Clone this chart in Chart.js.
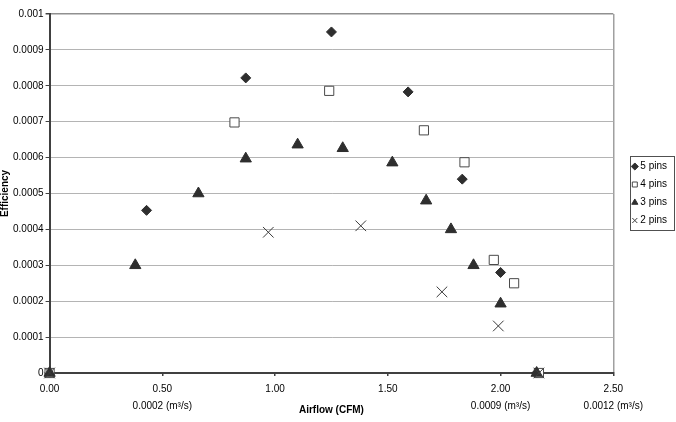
<!DOCTYPE html>
<html>
<head>
<meta charset="utf-8">
<script src="https://cdn.jsdelivr.net/npm/chart.js@4"></script>
<style>
  body { margin: 0; background: #fff; }
</style>
</head>
<body>
<canvas id="efficiencyChart" width="676" height="422"></canvas>
<script>
// series (airflow in CFM, efficiency)
const pins5X = [0, 0.43, 0.87, 1.25, 1.59, 1.83, 2.00, 2.16];
const pins5Y = [0, 0.000453, 0.000822, 0.00095, 0.000783, 0.00054, 0.00028, 0];

const pins4X = [0, 0.82, 1.24, 1.66, 1.84, 1.97, 2.06, 2.17];
const pins4Y = [0, 0.000698, 0.000786, 0.000676, 0.000587, 0.000315, 0.00025, 0];

const pins3X = [0, 0.38, 0.66, 0.87, 1.10, 1.30, 1.52, 1.67, 1.78, 1.88, 2.00, 2.16];
const pins3Y = [0, 0.0003, 0.0005, 0.000597, 0.000636, 0.000626, 0.000586, 0.00048, 0.0004, 0.0003, 0.000193, 0];

const pins2X = [0, 0.97, 1.38, 1.74, 1.99, 2.17];
const pins2Y = [0, 0.000392, 0.00041, 0.000226, 0.000131, 0];

const seriesNames = ['5 pins', '4 pins', '3 pins', '2 pins'];

const xTickLabels = ['0.00', '0.50', '1.00', '1.50', '2.00', '2.50'];
const xMetricLabels = ['', '0.0002 (m³/s)', '', '', '0.0009 (m³/s)', '0.0012 (m³/s)'];
const yTickLabels = ['0', '0.0001', '0.0002', '0.0003', '0.0004', '0.0005',
  '0.0006', '0.0007', '0.0008', '0.0009', '0.001'];

const toPoints = (xs, ys) => xs.map((x, i) => ({ x: x, y: ys[i] }));

const FONT = "'Liberation Sans', Arial, sans-serif";

// move the legend next to the plot and put a frame round it
const legendFrame = {
  id: 'legendFrame',
  afterLayout(chart) {
    const lg = chart.legend;
    lg.left += 13;
    lg.right += 13;
    lg.top = chart.chartArea.top;
    lg.bottom = chart.chartArea.bottom;
  },
  afterDraw(chart) {
    const lg = chart.legend;
    const pad = lg.options.labels.padding;
    const col = lg.columnSizes[0];
    const x0 = lg.left + pad;
    const y0 = (lg.top + pad + lg.bottom - col.height) / 2;
    const ctx = chart.ctx;
    ctx.save();
    ctx.strokeStyle = '#505050';
    ctx.lineWidth = 1;
    ctx.strokeRect(Math.round(x0 - 4) + 0.5, Math.round(y0 - 6) + 0.5,
      Math.round(col.width + 11), Math.round(col.height - pad + 10));
    ctx.restore();
  }
};

const ctx = document.getElementById('efficiencyChart').getContext('2d');
new Chart(ctx, {
  type: 'scatter',
  data: {
    datasets: [{
      label: seriesNames[0],
      data: toPoints(pins5X, pins5Y),
      order: 4,
      pointStyle: 'rectRot',
      pointRadius: 5,
      backgroundColor: '#2e2e2e',
      borderColor: '#2e2e2e',
      borderWidth: 1
    }, {
      label: seriesNames[1],
      data: toPoints(pins4X, pins4Y),
      order: 3,
      pointStyle: 'rect',
      pointRadius: 6.5,
      backgroundColor: '#ffffff',
      borderColor: '#4a4a4a',
      borderWidth: 1
    }, {
      label: seriesNames[2],
      data: toPoints(pins3X, pins3Y),
      order: 2,
      pointStyle: 'triangle',
      pointRadius: 6.5,
      backgroundColor: '#2e2e2e',
      borderColor: '#2e2e2e',
      borderWidth: 1
    }, {
      label: seriesNames[3],
      data: toPoints(pins2X, pins2Y),
      order: 1,
      pointStyle: 'crossRot',
      pointRadius: 7.5,
      backgroundColor: '#3a3a3a',
      borderColor: '#3a3a3a',
      borderWidth: 1
    }]
  },
  options: {
    responsive: false,
    animation: false,
    devicePixelRatio: 1,
    clip: false,
    layout: {
      padding: { top: 14, right: 12, bottom: 0, left: 0 }
    },
    plugins: {
      tooltip: { enabled: false },
      legend: {
        position: 'right',
        labels: {
          usePointStyle: true,
          boxWidth: 1,
          boxHeight: 5,
          padding: 8,
          color: '#000',
          font: { family: FONT, size: 10 },
          sort: (a, b) => a.datasetIndex - b.datasetIndex
        }
      }
    },
    scales: {
      x: {
        type: 'linear',
        min: 0,
        max: 2.5,
        ticks: {
          stepSize: 0.5,
          padding: 5,
          color: '#000',
          maxRotation: 0,
          font: { family: FONT, size: 10, lineHeight: 1.7 },
          callback: (value, index) => [xTickLabels[index], xMetricLabels[index]]
        },
        grid: {
          color: c => c.index === xTickLabels.length - 1 ? '#a0a0a0' : 'rgba(0,0,0,0)',
          lineWidth: 1.5,
          tickColor: '#404040',
          tickLength: 3
        },
        border: { color: '#404040', width: 2 },
        title: {
          display: true,
          text: 'Airflow (CFM)',
          color: '#000',
          font: { family: FONT, size: 10, weight: 'bold' },
          padding: { top: -16, bottom: 6 }
        }
      },
      y: {
        min: 0,
        max: 0.001,
        ticks: {
          stepSize: 0.0001,
          padding: 2,
          color: '#000',
          font: { family: FONT, size: 10 },
          callback: (value, index) => yTickLabels[index]
        },
        grid: {
          color: c => c.index === yTickLabels.length - 1 ? '#909090' : '#b4b4b4',
          lineWidth: c => c.index === yTickLabels.length - 1 ? 1.5 : 1,
          tickColor: '#404040',
          tickLength: 4
        },
        border: { color: '#404040', width: 2 },
        title: {
          display: true,
          text: 'Efficiency',
          color: '#000',
          font: { family: FONT, size: 10, weight: 'bold' },
          padding: { top: -1, bottom: 0 }
        }
      }
    }
  },
  plugins: [legendFrame]
});
</script>
</body>
</html>
